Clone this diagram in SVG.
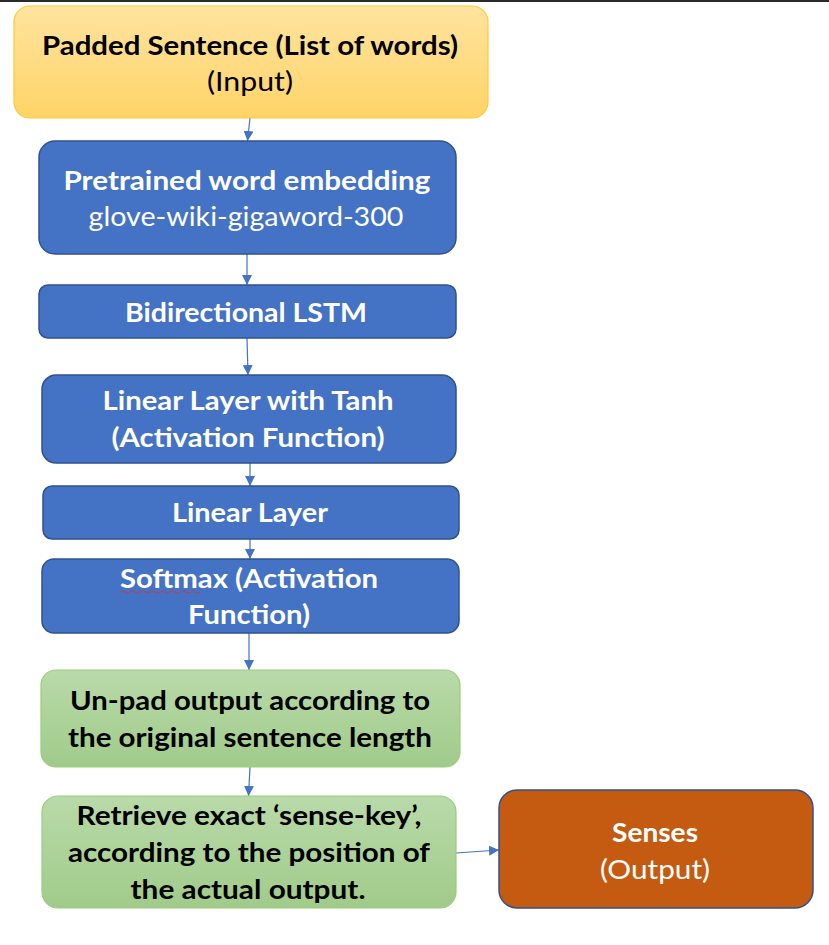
<svg xmlns="http://www.w3.org/2000/svg" width="829" height="945" viewBox="0 0 829 945">
<defs>
<linearGradient id="gy" x1="0" y1="0" x2="0" y2="1"><stop offset="0" stop-color="#ffe4a0"/><stop offset="1" stop-color="#ffd467"/></linearGradient>
<linearGradient id="gg" x1="0" y1="0" x2="0" y2="1"><stop offset="0" stop-color="#b9daa9"/><stop offset="1" stop-color="#a0cb8a"/></linearGradient>
<marker id="ah" viewBox="0 0 10 10" refX="10" refY="5" markerWidth="10" markerHeight="10" markerUnits="userSpaceOnUse" orient="auto"><path d="M0,0 L10,5 L0,10 Z" fill="#4472c4"/></marker>
<style>
.t{font-family:Lato,"Open Sans","Liberation Sans",sans-serif;font-size:27.5px;text-anchor:middle}
.b{font-weight:bold}
.w{fill:#ffffff}
.k{fill:#000000}
.blue{fill:#4472c4;stroke:#2f528f;stroke-width:1.5}
.green{fill:url(#gg);stroke:#9ccb7f;stroke-width:1.2}
.c{stroke:#4472c4;stroke-width:1.2;fill:none;marker-end:url(#ah)}
</style>
</defs>
<rect x="0" y="0" width="829" height="945" fill="#ffffff"/>
<rect x="0" y="0" width="829" height="2" fill="#2a2a2a"/>
<g id="connectors">
<line class="c" x1="250" y1="118" x2="247.5" y2="141"/>
<line class="c" x1="247" y1="254" x2="247" y2="285"/>
<line class="c" x1="247" y1="338" x2="248" y2="375"/>
<line class="c" x1="250" y1="463" x2="250" y2="486"/>
<line class="c" x1="250" y1="539" x2="250" y2="559"/>
<line class="c" x1="249" y1="633" x2="249" y2="670"/>
<line class="c" x1="250" y1="767" x2="248.5" y2="796"/>
<line class="c" x1="456" y1="853" x2="499" y2="850"/>
</g>
<g id="input">
<rect x="14" y="6" width="474" height="112" rx="16" fill="url(#gy)" stroke="#ffc832" stroke-width="1.2"/>
<text class="t b k" x="250" y="55" textLength="416" lengthAdjust="spacingAndGlyphs">Padded Sentence (List of words)</text>
<text class="t k" x="250" y="91" textLength="86" lengthAdjust="spacingAndGlyphs">(Input)</text>
</g>
<g id="embedding">
<rect class="blue" x="39" y="141" width="417" height="113" rx="16"/>
<text class="t b w" x="247" y="190" textLength="367" lengthAdjust="spacingAndGlyphs">Pretrained word embedding</text>
<text class="t w" x="246" y="226" textLength="315" lengthAdjust="spacingAndGlyphs">glove-wiki-gigaword-300</text>
</g>
<g id="lstm">
<rect class="blue" x="39" y="285" width="417" height="53" rx="9"/>
<text class="t b w" x="246" y="322" textLength="242" lengthAdjust="spacingAndGlyphs">Bidirectional LSTM</text>
</g>
<g id="tanh">
<rect class="blue" x="42" y="375" width="414" height="88" rx="14"/>
<text class="t b w" x="248" y="410" textLength="291" lengthAdjust="spacingAndGlyphs">Linear Layer with Tanh</text>
<text class="t b w" x="248" y="447" textLength="273" lengthAdjust="spacingAndGlyphs">(Activation Function)</text>
</g>
<g id="linear">
<rect class="blue" x="43" y="486" width="416" height="53" rx="9"/>
<text class="t b w" x="250" y="522" textLength="156" lengthAdjust="spacingAndGlyphs">Linear Layer</text>
</g>
<g id="softmax">
<rect class="blue" x="42" y="559" width="417" height="74" rx="12"/>
<text class="t b w" x="249" y="588" textLength="258" lengthAdjust="spacingAndGlyphs">Softmax (Activation</text>
<path d="M120,592 q2.5,-2 5,0 t5,0 t5,0 t5,0 t5,0 t5,0 t5,0 t5,0 t5,0 t5,0 t5,0 t5,0 t5,0 t5,0 t5,0 t5,0" fill="none" stroke="#e03030" stroke-width="0.8"/>
<text class="t b w" x="249" y="624" textLength="122" lengthAdjust="spacingAndGlyphs">Function)</text>
</g>
<g id="unpad">
<rect class="green" x="41" y="670" width="419" height="97" rx="15"/>
<text class="t b k" x="250" y="710" textLength="360" lengthAdjust="spacingAndGlyphs">Un-pad output according to</text>
<text class="t b k" x="250" y="747" textLength="364" lengthAdjust="spacingAndGlyphs">the original sentence length</text>
</g>
<g id="retrieve">
<rect class="green" x="42" y="796" width="414" height="112" rx="16"/>
<text class="t b k" x="249" y="825" textLength="345" lengthAdjust="spacingAndGlyphs">Retrieve exact ‘sense-key’,</text>
<text class="t b k" x="249" y="862" textLength="362" lengthAdjust="spacingAndGlyphs">according to the position of</text>
<text class="t b k" x="248" y="899" textLength="235" lengthAdjust="spacingAndGlyphs">the actual output.</text>
</g>
<g id="senses">
<rect x="499" y="790" width="314" height="118" rx="18" fill="#c55a11" stroke="#2f528f" stroke-width="1.5"/>
<text class="t b w" x="655" y="842" textLength="86" lengthAdjust="spacingAndGlyphs">Senses</text>
<text class="t w" x="655" y="879" textLength="110" lengthAdjust="spacingAndGlyphs">(Output)</text>
</g>
</svg>
